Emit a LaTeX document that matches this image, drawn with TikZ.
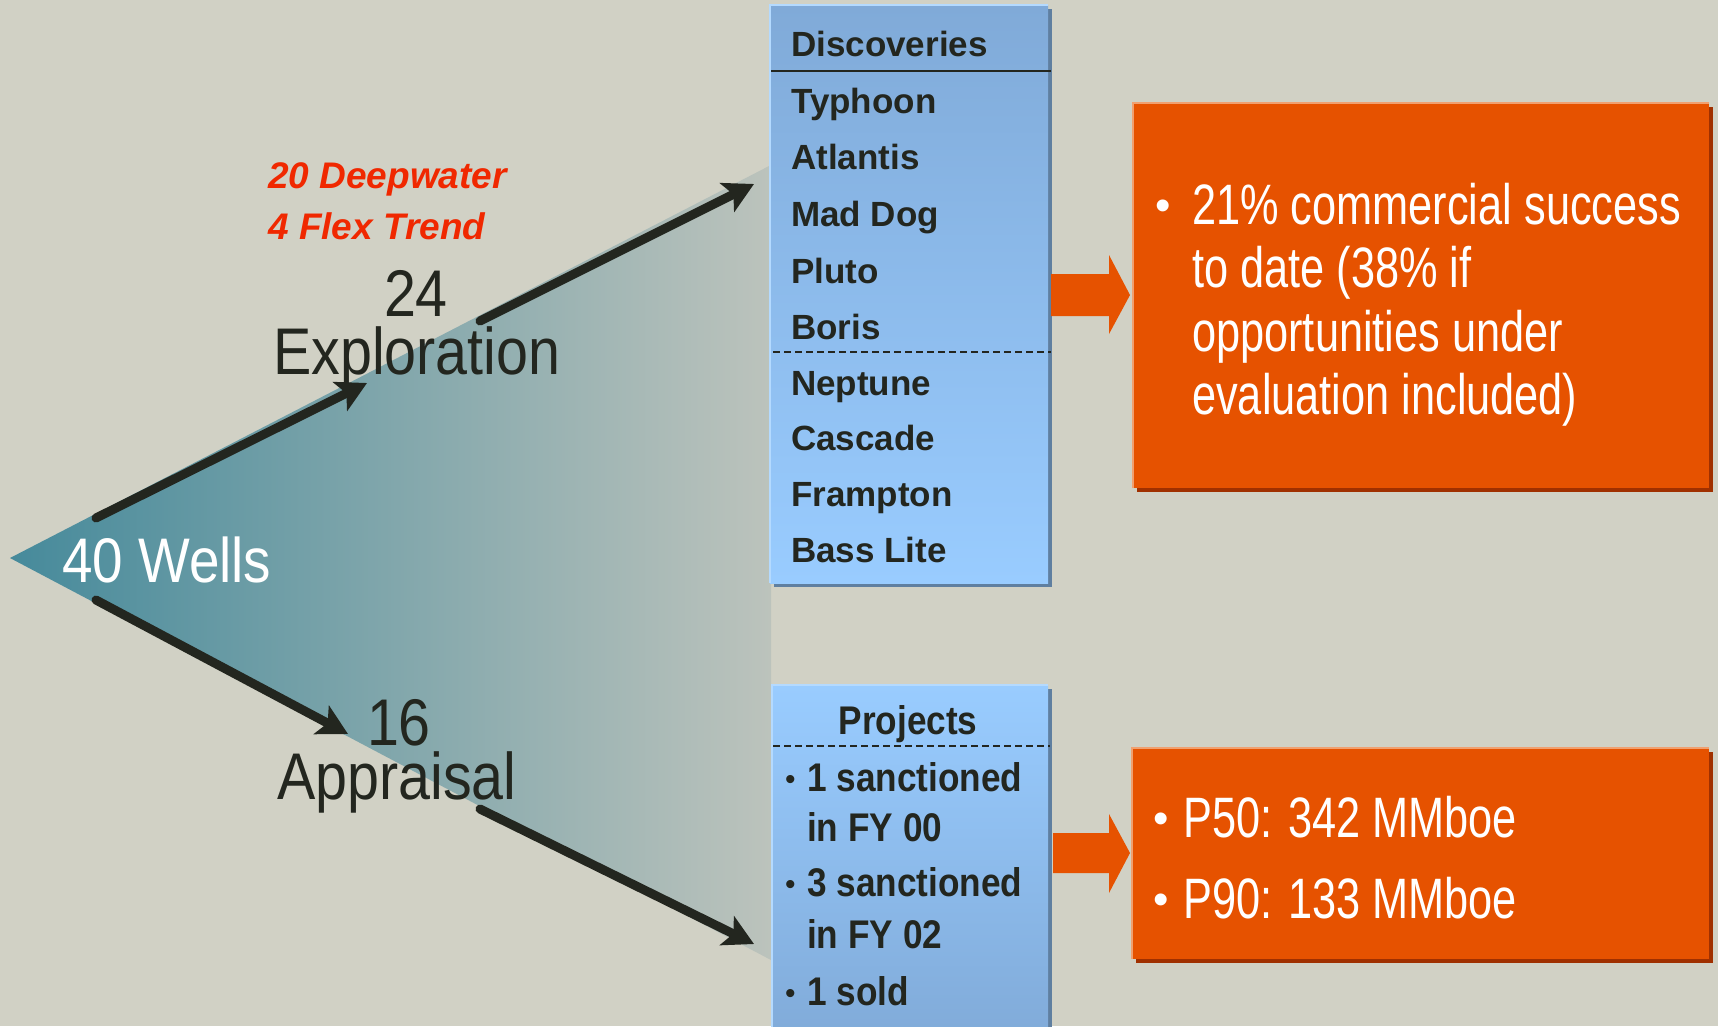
\documentclass[tikz,border=0pt]{standalone}
\usepackage{fontspec}
\setmainfont{Liberation Sans}
\newfontfamily\condf[FakeStretch=0.87]{Liberation Sans}
\newfontfamily\lightf[FakeStretch=0.76]{Liberation Sans}
\newfontfamily\narf[FakeStretch=0.88]{Liberation Sans}
\usetikzlibrary{arrows.meta}
\definecolor{bg}{HTML}{D1D1C5}
\definecolor{tealL}{HTML}{468A9B}
\definecolor{tealM}{HTML}{7EA2A8}
\definecolor{tealR}{HTML}{BCC3BC}
\definecolor{ink}{HTML}{23261F}
\definecolor{blueA}{HTML}{80AAD8}
\definecolor{blueB}{HTML}{99CCFF}
\definecolor{blueSh}{HTML}{5F7FA0}
\definecolor{blueHi}{HTML}{B4DAFF}
\definecolor{orng}{HTML}{E65200}
\definecolor{orngHi}{HTML}{F0A070}
\definecolor{orngSh}{HTML}{A03000}
\definecolor{redtxt}{HTML}{F02800}
\begin{document}
\begin{tikzpicture}[x=1pt,y=-1pt,
  txt/.style={inner sep=0pt, anchor=base west},
  disctxt/.style={txt, font=\bfseries\fontsize{35}{40}\selectfont, text=ink},
  projtxt/.style={txt, font=\narf\bfseries\fontsize{40}{44}\selectfont, text=ink},
  projdot/.style={txt, font=\fontsize{30}{34}\selectfont, text=ink},
  bigtxt/.style={inner sep=0pt, font=\condf\fontsize{66}{70}\selectfont, text=ink},
  redlbl/.style={txt, font=\bfseries\itshape\fontsize{37}{42}\selectfont, text=redtxt},
  orgtxt/.style={txt, font=\lightf\fontsize{57}{62}\selectfont, text=white},
  orgdot/.style={txt, font=\fontsize{44}{50}\selectfont, text=white},
  flow/.style={ink, line width=9pt, line cap=round, -{Stealth[length=30pt,width=32pt,inset=7pt]}},
  oarrow/.style={fill=orng},
  divider/.style={ink, line width=1.6pt}
]
\clip (0,0) rectangle (1718,1026);
\fill[bg] (0,0) rectangle (1718,1026);

% fan
\shade[left color=tealL, middle color=tealM, right color=tealR]
  (10,558) -- (771,165) -- (771,960) -- cycle;

% discoveries box
\fill[blueSh] (774,9) rectangle (1052,587);
\node[anchor=north west, minimum width=278pt, minimum height=578pt, inner sep=0pt,
  top color=blueA, bottom color=blueB, draw=none] (disc) at (770,5) {};
\draw[blueHi, line width=1.5pt] (disc.south west) -- (disc.north west) -- (disc.north east);
\draw[divider, line width=2pt] (771,71) -- (1051,71);
\draw[divider, dash pattern=on 7pt off 4pt] (773,352) -- (1051,352);
\node[disctxt] (dh) at (791,56) {Discoveries};
\node[disctxt] (d1) at (791,113) {Typhoon};
\node[disctxt] (d2) at (791,169) {Atlantis};
\node[disctxt] (d3) at (791,226) {Mad Dog};
\node[disctxt] (d4) at (791,283) {Pluto};
\node[disctxt] (d5) at (791,339) {Boris};
\node[disctxt] (d6) at (791,395) {Neptune};
\node[disctxt] (d7) at (791,450) {Cascade};
\node[disctxt] (d8) at (791,506) {Frampton};
\node[disctxt] (d9) at (791,562) {Bass Lite};

% projects box
\fill[blueSh] (776,689) rectangle (1052,1040);
\node[anchor=north west, minimum width=276pt, minimum height=360pt, inner sep=0pt,
  top color=blueB, bottom color=blueA, draw=none] (proj) at (772,685) {};
\draw[blueHi, line width=1.5pt] (proj.south west) -- (proj.north west) -- (proj.north east);
\draw[divider, dash pattern=on 7pt off 4pt] (773,746) -- (1050,746);
\node[projtxt, anchor=base] (ph) at (908,734) {Projects};
\node[projdot] (pb1) at (785,789) {•};
\node[projtxt] (p1) at (807,791) {1 sanctioned};
\node[projtxt] (p1b) at (807,841) {in FY 00};
\node[projdot] (pb2) at (785,894) {•};
\node[projtxt] (p2) at (807,896) {3 sanctioned};
\node[projtxt] (p2b) at (807,948) {in FY 02};
\node[projdot] (pb3) at (785,1003) {•};
\node[projtxt] (p3) at (807,1005) {1 sold};

% orange box 1
\fill[orngSh] (1137,107) rectangle (1713,492);
\node[anchor=north west, minimum width=576pt, minimum height=385pt, inner sep=0pt,
  fill=orng] (ob1) at (1133,103) {};
\draw[orngHi, line width=2pt] (ob1.south west) -- (ob1.north west) -- (ob1.north east);
\node[orgdot] (o1b) at (1155,220) {•};
\node[orgtxt] (o1) at (1192,224) {21\% commercial success};
\node[orgtxt] (o2) at (1192,287) {to date (38\% if};
\node[orgtxt] (o3) at (1192,351) {opportunities under};
\node[orgtxt] (o4) at (1192,414) {evaluation included)};

% orange box 2
\fill[orngSh] (1136,752) rectangle (1713,963);
\node[anchor=north west, minimum width=577pt, minimum height=211pt, inner sep=0pt,
  fill=orng] (ob2) at (1132,748) {};
\draw[orngHi, line width=2pt] (ob2.south west) -- (ob2.north west) -- (ob2.north east);
\node[orgdot] (o5b) at (1153,833) {•};
\node[orgtxt] (o5) at (1183,837) {P50: 342 MMboe};
\node[orgdot] (o6b) at (1153,914) {•};
\node[orgtxt] (o6) at (1183,918) {P90: 133 MMboe};

% orange block arrows
\fill[oarrow] (1051,274) -- (1109,274) -- (1109,255) -- (1130,295) -- (1109,334)
  -- (1109,316) -- (1051,316) -- cycle;
\fill[oarrow] (1053,833) -- (1109,833) -- (1109,814) -- (1130,853) -- (1109,893)
  -- (1109,873) -- (1053,873) -- cycle;

% labels
\node[txt, font=\condf\fontsize{63}{70}\selectfont, text=white] (wells) at (62,582) {40 Wells};
\node[bigtxt, anchor=base] (n24) at (416,316) {24};
\node[bigtxt, anchor=base west] (expl) at (273,374) {Exploration};
\node[bigtxt, anchor=base] (n16) at (399,745) {16};
\node[bigtxt, anchor=base west] (appr) at (277,799) {Appraisal};
\node[redlbl] (deep) at (268,188) {20 Deepwater};
\node[redlbl] (flex) at (268,239) {4 Flex Trend};

% flow arrows
\coordinate (ua0) at (96,518);
\coordinate (ua1) at (367,383);
\coordinate (ub0) at (480,321);
\coordinate (ub1) at (754,184);
\coordinate (la0) at (96,600);
\coordinate (la1) at (348,734);
\coordinate (lb0) at (480,809);
\coordinate (lb1) at (754,944);
\draw[flow] (ua0) -- (ua1);
\draw[flow] (ub0) -- (ub1);
\draw[flow] (la0) -- (la1);
\draw[flow] (lb0) -- (lb1);
\end{tikzpicture}
\end{document}
